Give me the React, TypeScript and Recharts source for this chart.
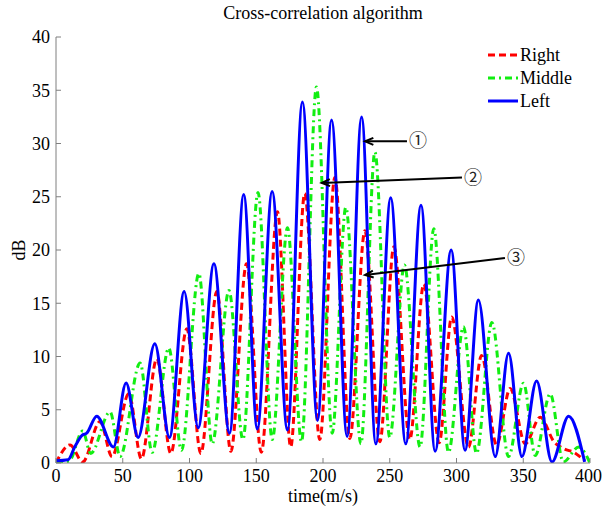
import React from 'react';
import { Label, Line, LineChart, ReferenceLine, XAxis, YAxis } from 'recharts';

const xTicks = [0, 50, 100, 150, 200, 250, 300, 350, 400];
const yTicks = [0, 5, 10, 15, 20, 25, 30, 35, 40];

// [time, dB] at the peaks and troughs
const rightPts: [number, number][] = [
  [0, 0], [10.5, 1.7], [20, 0.1], [33, 3.9], [42, 0.6], [54.5, 6.5], [64, 0.4], [75.5, 9.8],
  [86, 0.9], [98, 12.6], [108.5, 0.9], [120.5, 16.1], [131, 1.1], [142.7, 18.7], [153.8, 1.0],
  [165.9, 23.6], [175.8, 1.5], [186.3, 25.3], [197.6, 2.2], [208.9, 26.8], [220.1, 2.3],
  [231.4, 21.8], [242.6, 2.0], [253.1, 20.3], [265, 2.2], [275.5, 16.8], [287, 1.9],
  [296.4, 13.7], [309, 1.5], [318.8, 10.1], [330, 1.7], [340.2, 7.0], [351.5, 1.8],
  [362.7, 4.3], [373, 2.0], [381, 1.3], [388, 1.0], [396, 0.2]
];

const middlePts: [number, number][] = [
  [0, 0], [10, 0.2], [20, 3.0], [26, 0.9], [40.5, 4.8], [48, 0.6], [63, 9.4], [72, 1.0],
  [84.5, 10.8], [94, 1.2], [107, 17.8], [117, 1.8], [129.6, 16.2], [140, 2.2], [151.3, 25.4],
  [162, 2.2], [173.4, 22.1], [183.9, 2.0], [195.1, 35.3], [206.9, 2.8], [217.1, 24.0],
  [228.4, 1.8], [238.9, 29.2], [250, 2.4], [261, 18.6], [272.7, 1.5], [283, 22.0], [294, 1.0],
  [305.2, 12.8], [315, 0.9], [326.5, 13.2], [339, 0.6], [350.2, 7.5], [359, 0.7],
  [370.2, 6.5], [380, 0.1], [391.5, 1.5], [400, 0]
];

const leftPts: [number, number][] = [
  [0, 0.2], [9, 0.3], [14, 1.5], [19.5, 2.6], [23, 2.8], [30.5, 4.4], [43, 1.5], [52.5, 7.5],
  [61.5, 2.4], [74, 11.2], [85, 2.4], [96, 16.1], [106.5, 3.3], [118.3, 18.7], [130, 2.8],
  [140.6, 25.2], [150.8, 3.2], [161.9, 25.5], [173.4, 3.1], [184.6, 33.9], [195.9, 4.0],
  [206.4, 32.2], [218.1, 2.5], [228.9, 32.5], [239.6, 1.8], [250.7, 24.9], [262, 1.8],
  [273.4, 24.2], [284, 1.1], [296, 20.0], [306.4, 1.2], [316.4, 15.3], [329, 0.6],
  [339, 10.3], [349, 0.6], [360, 7.7], [371.5, 0.1], [384, 4.4], [396, 0.1]
];

// arrow annotations: label, tail [x, y], tip [x, y]
const notes: { label: string; from: [number, number]; to: [number, number] }[] = [
  { label: '①', from: [262.9, 30.2], to: [231.5, 30.2] },
  { label: '②', from: [304.1, 26.8], to: [199, 26.3] },
  { label: '③', from: [336.3, 19.25], to: [231.5, 17.65] }
];

const toRows = (pts: [number, number][]) => pts.map(([x, y]) => ({ x, y }));

const series = [
  { name: 'Right', data: toRows(rightPts), color: '#ff0000', dash: '7 4' },
  { name: 'Middle', data: toRows(middlePts), color: '#11ee11', dash: '7 4 2 4' },
  { name: 'Left', data: toRows(leftPts), color: '#0000ff', dash: undefined }
];

const serif = "'Liberation Serif', 'Times New Roman', serif";
const axisColor = '#7f7f7f';

const makeArrow = (label: string) => (p: any) => {
  const { x1, y1, x2, y2 } = p;
  if (x1 == null || x2 == null) return null;
  // x1,y1 = tail; x2,y2 = tip
  const ang = Math.atan2(y2 - y1, x2 - x1);
  const len = 9;
  const spread = 0.4;
  const a1x = x2 - len * Math.cos(ang - spread);
  const a1y = y2 - len * Math.sin(ang - spread);
  const a2x = x2 - len * Math.cos(ang + spread);
  const a2y = y2 - len * Math.sin(ang + spread);
  return (
    <g>
      <line x1={x1} y1={y1} x2={x2} y2={y2} stroke="#000" strokeWidth={2} />
      <polyline
        points={`${a1x},${a1y} ${x2},${y2} ${a2x},${a2y}`}
        fill="none"
        stroke="#000"
        strokeWidth={2}
      />
      <text
        x={x1 + 11}
        y={y1 + 6}
        textAnchor="middle"
        fontSize={18}
        fontFamily="'Noto Sans CJK SC', 'DejaVu Sans', sans-serif"
        fill="#222"
      >
        {label}
      </text>
    </g>
  );
};

const renderYLabel = (props: any) => {
  const vb = props.viewBox || {};
  const cx = 19;
  const cy = (vb.y ?? 37) + (vb.height ?? 426) / 2;
  return (
    <text
      x={cx}
      y={cy}
      transform={`rotate(-90 ${cx} ${cy})`}
      textAnchor="middle"
      dominantBaseline="central"
      fontSize={18}
      fontFamily={serif}
      fill="#000"
    >
      dB
    </text>
  );
};

const renderXLabel = (props: any) => {
  const vb = props.viewBox || {};
  const cx = (vb.x ?? 56) + (vb.width ?? 534) / 2;
  return (
    <text x={cx} y={502} textAnchor="middle" fontSize={18} fontFamily={serif} fill="#000">
      time(m/s)
    </text>
  );
};

export default function App() {
  return (
    <div style={{ position: 'fixed', left: 0, top: 0, width: 602, height: 509, background: '#fff' }}>
      <div
        style={{
          position: 'absolute',
          left: 56,
          width: 534,
          top: 2,
          textAlign: 'center',
          fontFamily: serif,
          fontSize: 18,
          lineHeight: '22px',
          color: '#000'
        }}
      >
        Cross-correlation algorithm
      </div>
      <LineChart width={602} height={509} margin={{ top: 37, right: 12, left: 0, bottom: 0 }}>
        <XAxis
          type="number"
          dataKey="x"
          domain={[0, 400]}
          ticks={xTicks}
          allowDataOverflow
          height={46}
          stroke={axisColor}
          tickSize={-5}
          tickMargin={11}
          tick={{ fill: '#000', fontSize: 18, fontFamily: serif }}
        >
          <Label content={renderXLabel} />
        </XAxis>
        <YAxis
          type="number"
          domain={[0, 40]}
          ticks={yTicks}
          allowDataOverflow
          width={56}
          stroke={axisColor}
          tickSize={-5}
          tickMargin={11}
          tick={{ fill: '#000', fontSize: 18, fontFamily: serif }}
        >
          <Label content={renderYLabel} />
        </YAxis>
        {series.map((s) => (
          <Line
            key={s.name}
            data={s.data}
            dataKey="y"
            name={s.name}
            type="monotone"
            stroke={s.color}
            strokeWidth={3}
            strokeDasharray={s.dash}
            dot={false}
            activeDot={false}
            isAnimationActive={false}
          />
        ))}
        {notes.map((n) => (
          <ReferenceLine
            key={n.label}
            segment={[
              { x: n.from[0], y: n.from[1] },
              { x: n.to[0], y: n.to[1] }
            ]}
            ifOverflow="visible"
            shape={makeArrow(n.label)}
          />
        ))}
      </LineChart>
      <svg
        width={130}
        height={70}
        style={{ position: 'absolute', left: 466, top: 44 }}
      >
        {series.map((s, i) => (
          <g key={s.name}>
            <line
              x1={22}
              x2={52}
              y1={11 + i * 23}
              y2={11 + i * 23}
              stroke={s.color}
              strokeWidth={3}
              strokeDasharray={s.dash}
            />
            <text x={54} y={17 + i * 23} fontSize={18} fontFamily={serif} fill="#000">
              {s.name}
            </text>
          </g>
        ))}
      </svg>
    </div>
  );
}
